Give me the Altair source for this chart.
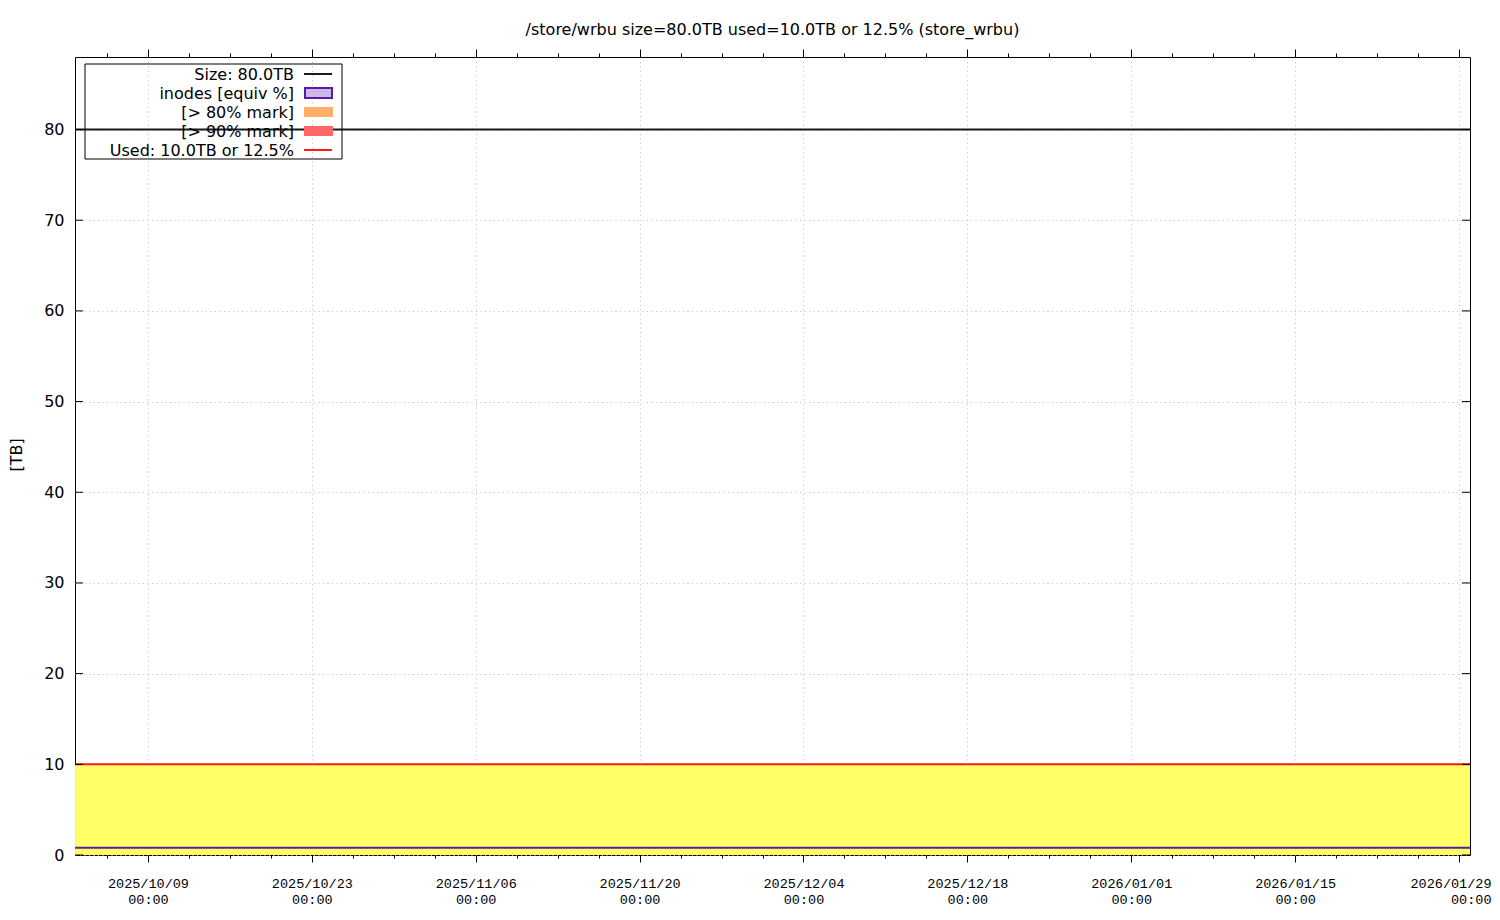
import altair as alt
import pandas as pd

# ---------------- data ----------------
title_text = "/store/wrbu size=80.0TB used=10.0TB or 12.5% (store_wrbu)"
y_title = "[TB]"

times = [
    "2025-10-02T18:30:00", "2025-10-09T00:00:00", "2025-10-16T00:00:00",
    "2025-10-23T00:00:00", "2025-10-30T00:00:00", "2025-11-06T00:00:00",
    "2025-11-13T00:00:00", "2025-11-20T00:00:00", "2025-11-27T00:00:00",
    "2025-12-04T00:00:00", "2025-12-11T00:00:00", "2025-12-18T00:00:00",
    "2025-12-25T00:00:00", "2026-01-01T00:00:00", "2026-01-08T00:00:00",
    "2026-01-15T00:00:00", "2026-01-22T00:00:00", "2026-01-29T22:30:00",
]
used_tb = [10.0, 10.0, 10.0, 10.0, 10.0, 10.0, 10.0, 10.0, 10.0,
           10.0, 10.0, 10.0, 10.0, 10.0, 10.0, 10.0, 10.0, 10.0]
inodes_tb = [0.8, 0.8, 0.8, 0.8, 0.8, 0.8, 0.8, 0.8, 0.8,
             0.8, 0.8, 0.8, 0.8, 0.8, 0.8, 0.8, 0.8, 0.8]
size_tb = [80.0]

y_ticks = [0, 10, 20, 30, 40, 50, 60, 70, 80]
y_domain = [0, 88]

x_domain = [(2025, 10, 2, 18, 26), (2026, 1, 29, 22, 32)]
x_major = [(2025, 10, 9), (2025, 10, 23), (2025, 11, 6), (2025, 11, 20),
           (2025, 12, 4), (2025, 12, 18), (2026, 1, 1), (2026, 1, 15),
           (2026, 1, 29)]
x_minor = [(2025, 10, 5, 12), (2025, 10, 12, 12), (2025, 10, 16, 0), (2025, 10, 19, 12),
           (2025, 10, 26, 12), (2025, 10, 30, 0), (2025, 11, 2, 12),
           (2025, 11, 9, 12), (2025, 11, 13, 0), (2025, 11, 16, 12),
           (2025, 11, 23, 12), (2025, 11, 27, 0), (2025, 11, 30, 12),
           (2025, 12, 7, 12), (2025, 12, 11, 0), (2025, 12, 14, 12),
           (2025, 12, 21, 12), (2025, 12, 25, 0), (2025, 12, 28, 12),
           (2026, 1, 4, 12), (2026, 1, 8, 0), (2026, 1, 11, 12),
           (2026, 1, 18, 12), (2026, 1, 22, 0), (2026, 1, 25, 12)]

legend_labels = ["Size: 80.0TB", "inodes [equiv %]", "[> 80% mark]",
                 "[> 90% mark]", "Used: 10.0TB or 12.5%"]

# ---------------- build ----------------
W, H = 1395, 798
SANS = "DejaVu Sans"
MONO = "Liberation Mono"
FS = 16


def dt(t):
    y, m, d = t[0], t[1], t[2]
    h = t[3] if len(t) > 3 else 0
    mi = t[4] if len(t) > 4 else 0
    return alt.DateTime(year=y, month=m, date=d, hours=h, minutes=mi)


df = pd.DataFrame({"time": times, "used": used_tb, "inodes": inodes_tb})
xscale = alt.Scale(domain=[dt(t) for t in x_domain], nice=False)
yscale = alt.Scale(domain=y_domain, nice=False, zero=True)
major_vals = [dt(t) for t in x_major]
minor_vals = [dt(t) for t in x_minor]

grid_kw = dict(gridColor="#bdbdbd", gridDash=[1, 3.5], gridWidth=1)

PAD = "\u2007\u2007"  # figure spaces keep the last time label near its tick
label_expr = (
    "[timeFormat(datum.value, '%Y/%m/%d'), "
    "timeFormat(datum.value, '%H:%M') + "
    "((datum.index > 0.99 || timeFormat(datum.value, '%m/%d') == '01/29') ? '" + PAD + "' : '')]"
)

axis_bottom = alt.Axis(
    orient="bottom", values=major_vals, title=None, domain=False,
    tickSize=7, tickColor="black", tickWidth=1,
    labelExpr=label_expr,
    labelFont=MONO, labelFontSize=13.5, labelColor="black", labelLineHeight=16,
    labelPadding=14, labelBaseline="top", labelFlush=15, labelFlushOffset=32,
    labelOverlap=False, grid=True, **grid_kw)
axis_top = alt.Axis(orient="top", values=major_vals, title=None, domain=False,
                    tickSize=8, tickColor="black", labels=False, grid=False)
axis_bottom_minor = alt.Axis(orient="bottom", values=minor_vals, title=None, domain=False,
                             tickSize=3, tickColor="black", labels=False, grid=False)
axis_top_minor = alt.Axis(orient="top", values=minor_vals, title=None, domain=False,
                          tickSize=4, tickColor="black", labels=False, grid=False)

axis_left = alt.Axis(orient="left", values=y_ticks, title=None, domain=False,
                     ticks=False, labelPadding=11, labelFont=SANS, labelFontSize=FS,
                     labelColor="black", grid=True, **grid_kw)

base = alt.Chart(df)

area = base.mark_area(color="#ffff66", opacity=1).encode(
    x=alt.X("time:T", scale=xscale, axis=axis_bottom),
    y=alt.Y("used:Q", scale=yscale, axis=axis_left),
)
inode_line = base.mark_line(color="#5a1aa8", strokeWidth=2.2).encode(
    x=alt.X("time:T", scale=xscale, axis=axis_bottom_minor),
    y=alt.Y("inodes:Q", scale=yscale, axis=None),
)
used_line = base.mark_line(color="#ff1a1a", strokeWidth=2).encode(
    x=alt.X("time:T", scale=xscale, axis=axis_top),
    y=alt.Y("used:Q", scale=yscale, axis=None),
)
used_line2 = base.mark_line(color="#ff1a1a", strokeWidth=2, opacity=0).encode(
    x=alt.X("time:T", scale=xscale, axis=axis_top_minor),
    y=alt.Y("used:Q", scale=yscale, axis=None),
)
size_rule = alt.Chart(pd.DataFrame({"size": size_tb})).mark_rule(
    color="#1a1a1a", strokeWidth=2).encode(
    y=alt.Y("size:Q", scale=yscale, axis=None))

ytick_df = pd.DataFrame({"v": y_ticks})
ytick_left = alt.Chart(ytick_df).mark_rule(color="black", strokeWidth=1).encode(
    y=alt.Y("v:Q", scale=yscale, axis=None), x=alt.value(0), x2=alt.value(8))
ytick_right = alt.Chart(ytick_df).mark_rule(color="black", strokeWidth=1).encode(
    y=alt.Y("v:Q", scale=yscale, axis=None), x=alt.value(W - 8), x2=alt.value(W))

# title and y title
title_mark = alt.Chart(pd.DataFrame({"t": [title_text]})).mark_text(
    font=SANS, fontSize=FS, color="black", align="center", baseline="middle").encode(
    text="t:N", x=alt.value(W / 2), y=alt.value(-27))
ytitle_mark = alt.Chart(pd.DataFrame({"t": [y_title]})).mark_text(
    font=SANS, fontSize=FS, color="black", align="center", baseline="middle",
    angle=270).encode(text="t:N", x=alt.value(-58), y=alt.value(398))

# legend (manual, gnuplot style)
legend_layers = []
legend_layers.append(
    alt.Chart(pd.DataFrame({"a": [0]})).mark_rect(
        fill="white", fillOpacity=0, stroke="black", strokeWidth=1).encode(
        x=alt.value(10), x2=alt.value(267), y=alt.value(7), y2=alt.value(102)))
row_y = [17, 36, 55, 74, 93]
for lab, ry in zip(legend_labels, row_y):
    legend_layers.append(
        alt.Chart(pd.DataFrame({"t": [lab]})).mark_text(
            font=SANS, fontSize=FS, color="black", align="right",
            baseline="middle").encode(text="t:N", x=alt.value(219), y=alt.value(ry + 1)))
one = pd.DataFrame({"a": [0]})
# Size swatch
legend_layers.append(alt.Chart(one).mark_rule(color="#1a1a1a", strokeWidth=2).encode(
    x=alt.value(229), x2=alt.value(257), y=alt.value(row_y[0])))
# inodes swatch (purple hatched box)
legend_layers.append(alt.Chart(one).mark_rect(
    fill="#cdb8ee", stroke="#5a1aa8", strokeWidth=2).encode(
    x=alt.value(230), x2=alt.value(257), y=alt.value(row_y[1] - 5), y2=alt.value(row_y[1] + 5)))
# 80% swatch
legend_layers.append(alt.Chart(one).mark_rect(fill="#ffb066").encode(
    x=alt.value(229), x2=alt.value(258), y=alt.value(row_y[2] - 5), y2=alt.value(row_y[2] + 5)))
# 90% swatch
legend_layers.append(alt.Chart(one).mark_rect(fill="#ff6666").encode(
    x=alt.value(229), x2=alt.value(258), y=alt.value(row_y[3] - 5), y2=alt.value(row_y[3] + 5)))
# Used swatch
legend_layers.append(alt.Chart(one).mark_rule(color="#ff1a1a", strokeWidth=2).encode(
    x=alt.value(229), x2=alt.value(257), y=alt.value(row_y[4])))

chart = alt.layer(
    area, inode_line, used_line, used_line2, size_rule,
    ytick_left, ytick_right, title_mark, ytitle_mark, *legend_layers
).resolve_axis(x="independent", y="independent").properties(
    width=W, height=H,
    autosize=alt.AutoSizeParams(type="none"),
    padding={"left": 67, "top": 49, "right": 22, "bottom": 56},
    background="white",
).configure_view(stroke="black", strokeWidth=1)

chart.save("out.html", embed_options={"renderer": "svg", "actions": False})
